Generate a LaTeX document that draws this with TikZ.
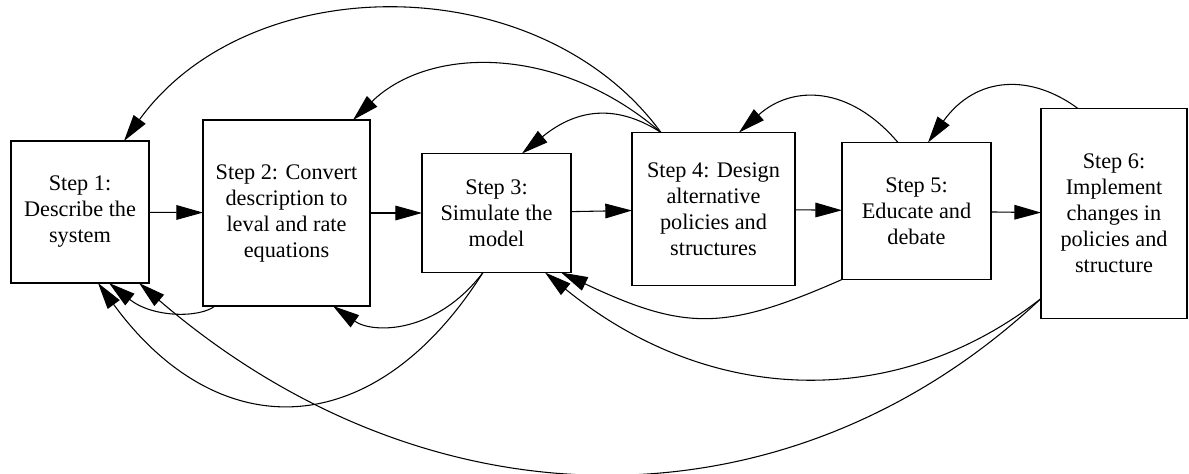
\documentclass[tikz,border=0pt]{standalone}
\usepackage{fontspec}
\setmainfont{Liberation Serif}
\usetikzlibrary{arrows.meta}
\usetikzlibrary{positioning}
\tikzset{>={Triangle[length=20pt,width=11pt]}}
\tikzset{stepbox/.style={draw, line width=0.8pt, inner sep=0pt, outer sep=0pt, align=center, font=\fontsize{16.7}{19.5}\selectfont}}

\begin{document}
\begin{tikzpicture}[x=0.75pt, y=-0.75pt, line width=0.8pt]
        \useasboundingbox (0,0) rectangle (1189,474);
        \node [stepbox, minimum width=103.5pt, minimum height=106.5pt] (Step1) at (80,212) {Step 1:\\Describe the\\system};
        \node [stepbox, minimum width=125.25pt, minimum height=139.5pt, right=40.5pt of Step1, yshift=-0.75pt] (Step2) {Step 2: Convert\\description to\\leval and rate\\equations};
        \node [stepbox, minimum width=111.75pt, minimum height=89.25pt, right=39pt of Step2] (Step3) {Step 3:\\Simulate the\\model};
        \node [stepbox, minimum width=122.25pt, minimum height=114.75pt, right=45.75pt of Step3, yshift=3pt] (Step4) {Step 4: Design\\alternative\\policies and\\structures};
        \node [stepbox, minimum width=111.75pt, minimum height=102.75pt, right=35.25pt of Step4, yshift=-1.5pt] (Step5) {Step 5:\\Educate and\\debate};
        \node [stepbox, minimum width=109.5pt, minimum height=157.5pt, right=37.5pt of Step5, yshift=-1.9pt] (Step6) {Step 6:\\Implement\\changes in\\policies and\\structure};
        % forward steps
        \draw [->] (Step1) -- (Step2);
        \draw [->] (Step2) -- (Step3);
        \draw [->] (Step3) -- (Step4);
        \draw [->] (Step4) -- (Step5);
        \draw [->] (Step5) -- (Step6);
        % feedback over the top
        \draw [->] ([xshift=21.75pt]Step4.north west) .. controls (540,-33) and (250,-33) .. ([xshift=84.75pt]Step1.north west);
        \draw [->] ([xshift=21.75pt]Step4.north west) .. controls (560,45) and (430,45) .. ([xshift=112.5pt]Step2.north west);
        \draw [->] ([xshift=21.75pt]Step4.north west) .. controls (620,106) and (580,106) .. ([xshift=75pt]Step3.north west);
        \draw [->] ([xshift=42pt]Step5.north west) .. controls (849,85) and (792,85) .. ([xshift=80.25pt]Step4.north west);
        \draw [->] ([xshift=27.75pt]Step6.north west) .. controls (1032,74.5) and (977,74.5) .. ([xshift=64.5pt]Step5.north west);
        % feedback underneath
        \draw [->] ([xshift=9pt]Step2.south west) .. controls (200,318) and (153,318) .. ([xshift=73.5pt]Step1.south west);
        \draw [->] ([xshift=45.75pt]Step3.south west) .. controls (436,334) and (373,334) .. ([xshift=97.5pt]Step2.south west);
        \draw [->] ([xshift=45.75pt]Step3.south west) .. controls (373,446) and (217,446) .. ([xshift=65.25pt]Step1.south west);
        \draw [->] (Step5.south west) .. controls (725,331) and (685,331) .. ([xshift=104.25pt]Step3.south west);
        \draw [->] ([yshift=15pt]Step6.south west) .. controls (900,409) and (713,409) .. ([xshift=92.25pt]Step3.south west);
        \draw [->] ([yshift=15pt]Step6.south west) .. controls (790,534) and (431,534) .. ([xshift=96pt]Step1.south west);
    \end{tikzpicture}
\end{document}
